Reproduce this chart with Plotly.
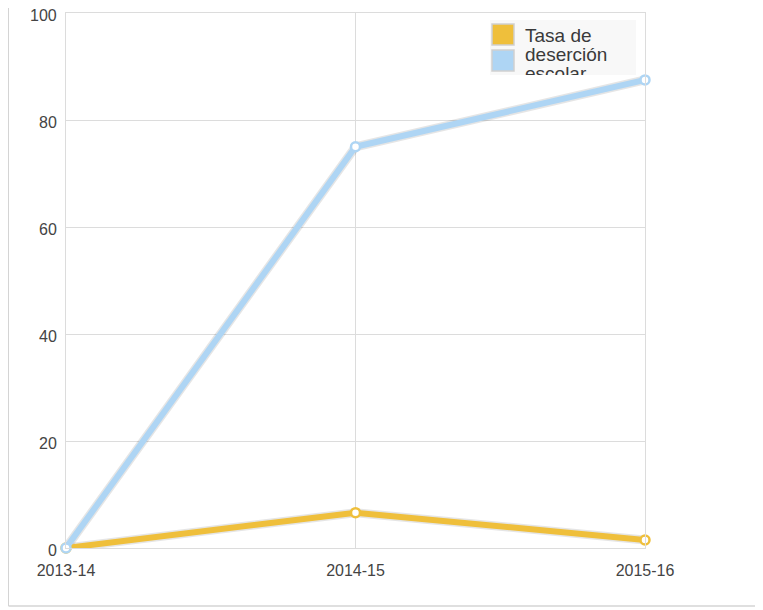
import plotly.graph_objects as go

years = ['2013-14', '2014-15', '2015-16']
desercion = [0, 6.6, 1.5]
otra = [0, 75, 87.5]
y_ticks = [0, 20, 40, 60, 80, 100]
legend_lines = ['Tasa de', 'deserción', 'escolar']

yellow = '#efbf3b'
blue = '#aed5f4'

fig = go.Figure()

# soft shadow under the lines
for vals in (desercion, otra):
    fig.add_trace(go.Scatter(x=years, y=vals, mode='lines',
                             line=dict(color='rgba(0,0,0,0.10)', width=9),
                             hoverinfo='skip', showlegend=False))

fig.add_trace(go.Scatter(x=years, y=desercion, mode='lines+markers',
                         line=dict(color=yellow, width=6),
                         marker=dict(size=9, color='white', line=dict(color=yellow, width=2.5)),
                         showlegend=False, cliponaxis=False))
fig.add_trace(go.Scatter(x=years, y=otra, mode='lines+markers',
                         line=dict(color=blue, width=6),
                         marker=dict(size=9, color='white', line=dict(color=blue, width=2.5)),
                         showlegend=False, cliponaxis=False))

# page body has an 8px margin, so everything is placed 8px up/left
OFF = 8
W, H = 763 - OFF, 610 - OFF
L, R, T, B = 66 - OFF, 645 - OFF, 13 - OFF, 548 - OFF


def px(x):
    return (x - OFF - L) / (R - L)


def py(y):
    return (B - (y - OFF)) / (B - T)


shapes = [
    # legend box
    dict(type='rect', xref='paper', yref='paper', x0=px(490), x1=px(636), y0=py(75), y1=py(20),
         fillcolor='#f8f8f8', line=dict(width=0), layer='above'),
    dict(type='rect', xref='paper', yref='paper', x0=px(492), x1=px(514), y0=py(45), y1=py(24),
         fillcolor=yellow, line=dict(color='#cfcfcf', width=1.5), layer='above'),
    dict(type='rect', xref='paper', yref='paper', x0=px(492), x1=px(514), y0=py(71), y1=py(50),
         fillcolor=blue, line=dict(color='#cfcfcf', width=1.5), layer='above'),
    # outer frame
    dict(type='line', xref='paper', yref='paper', x0=px(8.5), x1=px(8.5), y0=py(8), y1=py(606),
         line=dict(color='#d4d4d4', width=1)),
    dict(type='line', xref='paper', yref='paper', x0=px(8.5), x1=px(763), y0=py(606), y1=py(606),
         line=dict(color='#d4d4d4', width=1.5)),
]

tick_font = dict(family='Liberation Sans Narrow, Arial Narrow, Liberation Sans, Arial', size=16, color='#444')

annotations = []
# y tick labels sit a little below their gridlines
for v in y_ticks:
    annotations.append(dict(xref='paper', yref='y', x=0, y=v, xshift=-7, yshift=-2,
                            xanchor='right', yanchor='middle', text=str(v), showarrow=False,
                            font=tick_font))
for i, txt in enumerate(legend_lines):
    annotations.append(dict(xref='paper', yref='paper', x=px(523), y=py(36 + 18.5 * i),
                            xanchor='left', yanchor='middle', text=txt, showarrow=False,
                            font=dict(family='Liberation Sans, Arial', size=19, color='#3a3a3a')))
# cut the last legend line at the box edge
annotations.append(dict(xref='paper', yref='paper', x=px(516), y=py(75), xanchor='left', yanchor='top',
                        text='', showarrow=False, width=80, height=9, bgcolor='white',
                        borderpad=0, borderwidth=0))

fig.update_layout(
    width=W, height=H,
    margin=dict(l=L, r=W - R, t=T, b=H - B, pad=0),
    paper_bgcolor='white', plot_bgcolor='white',
    font=tick_font,
    showlegend=False,
    shapes=shapes,
    annotations=annotations,
)
fig.update_xaxes(type='category', range=[0, 2], showgrid=True, gridcolor='#dcdcdc', gridwidth=1,
                 showline=True, mirror=True, linecolor='#dcdcdc', linewidth=1,
                 zeroline=False, ticks='', ticklabelstandoff=8, automargin=False,
                 ticklabeloverflow='allow')
fig.update_yaxes(range=[0, 100], tickvals=y_ticks, showticklabels=False,
                 showgrid=True, gridcolor='#dcdcdc', gridwidth=1,
                 showline=True, mirror=True, linecolor='#dcdcdc', linewidth=1,
                 zeroline=False, ticks='', automargin=False)

fig.write_html('out.html')
